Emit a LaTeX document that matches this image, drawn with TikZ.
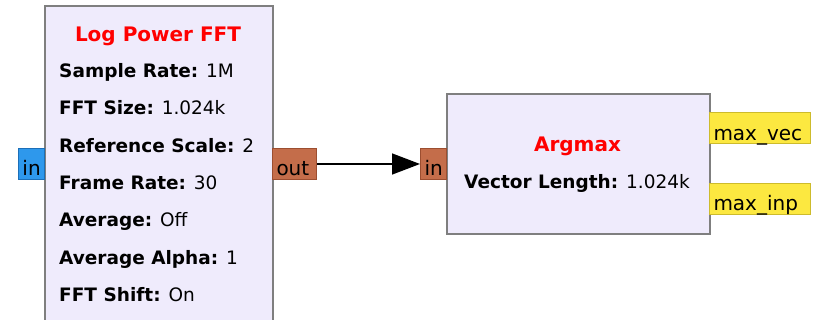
\documentclass[tikz,border=0pt]{standalone}
\usepackage{fontspec}
\setmainfont{DejaVu Sans}
\usetikzlibrary{arrows.meta}

\definecolor{blockfill}{HTML}{EFEBFC}
\definecolor{blockline}{HTML}{7F7F7F}
\definecolor{infill}{HTML}{2E98EC}
\definecolor{inline}{HTML}{1C6FB8}
\definecolor{outfill}{HTML}{C46D4A}
\definecolor{outline}{HTML}{9C4E30}
\definecolor{msgfill}{HTML}{FCE840}
\definecolor{msgline}{HTML}{CDBB2C}
\definecolor{titlered}{HTML}{FF0000}

\tikzset{
  block/.style={draw=blockline, line width=2pt, fill=blockfill, inner sep=0pt, anchor=north west},
  port/.style={line width=1pt, inner xsep=4pt, inner ysep=0pt, align=left,
    text height=27pt, text depth=4pt, anchor=north west, font=\fontsize{20}{24}\selectfont},
  inport/.style={port, draw=inline, fill=infill},
  outport/.style={port, draw=outline, fill=outfill},
  msgport/.style={port, draw=msgline, fill=msgfill},
  btitle/.style={inner sep=0pt, anchor=base, text=titlered, font=\fontsize{20}{24}\selectfont\bfseries},
  param/.style={inner sep=0pt, anchor=base west, font=\fontsize{18.5}{22}\selectfont},
  conn/.style={line width=1.5pt, -{Triangle[length=28pt,width=21pt]}}
}

\begin{document}
\begin{tikzpicture}[x=1pt,y=-1pt]
\clip (0,0) rectangle (820,320);

% blocks
\node[block, minimum width=228pt, minimum height=340pt] (fft) at (44,5) {};
\node[block, minimum width=263pt, minimum height=140pt] (argmax) at (446,93) {};

% ports
\node[inport, text width=18pt] (fftin) at (18,148) {in};
\node[outport, text width=36pt] (fftout) at (272,148) {out};
\node[outport, text width=18pt] (argin) at (420,148) {in};
\node[msgport, text width=93pt, text depth=3pt, text height=28pt] (maxvec) at (709,112) {max\_vec};
\node[msgport, text width=93pt] (maxinp) at (709,183) {max\_inp};

% log power fft
\node[btitle] (ffttitle) at (158,42) {Log Power FFT};
\node[param] (srate) at (59,78) {\textbf{Sample Rate:} 1M};
\node[param] (fftsize) at (59,115) {\textbf{FFT Size:} 1.024k};
\node[param] (refscale) at (59,153) {\textbf{Reference Scale:} 2};
\node[param] (frate) at (59,190) {\textbf{Frame Rate:} 30};
\node[param] (avg) at (59,227) {\textbf{Average:} Off};
\node[param] (avgalpha) at (59,265) {\textbf{Average Alpha:} 1};
\node[param] (fftshift) at (59,302) {\textbf{FFT Shift:} On};

% argmax
\node[btitle] (argtitle) at (577.5,152) {Argmax};
\node[param] (veclen) at (464,189) {\textbf{Vector Length:} 1.024k};

\draw[conn] (fftout.east) -- (argin.west);
\end{tikzpicture}
\end{document}
